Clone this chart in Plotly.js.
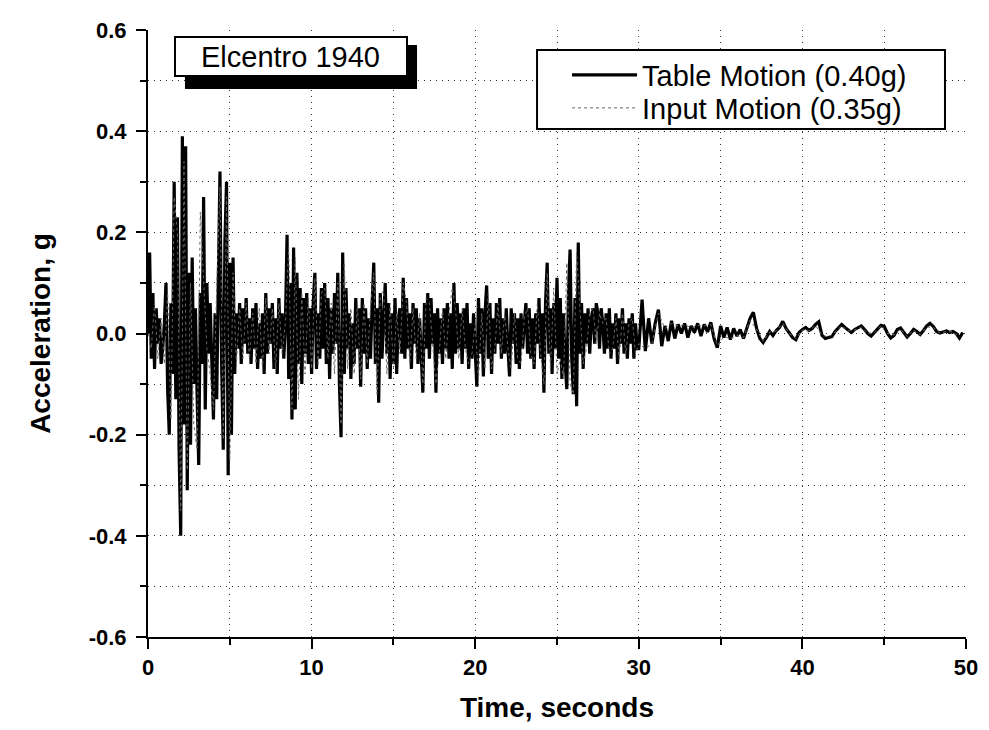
<!DOCTYPE html>
<html>
<head>
<meta charset="utf-8">
<script src="https://cdn.plot.ly/plotly-3.0.1.min.js"></script>
<style>html,body{margin:0;padding:0;background:#fff;}#chart{width:989px;height:730px;}</style>
</head>
<body>
<div id="chart"></div>
<script>
// ---------- DATA ----------
const SERIES_NAMES = ["Table Motion (0.40g)", "Input Motion (0.35g)"];
const ANNOTATION_TEXT = "Elcentro 1940";

// Table motion, acceleration (g), 0.0 s – 29.9 s sampled every 0.1 s
const TABLE_DT_A = 0.1;
const TABLE_ACC_A = [
  0.00, 0.16, -0.05, 0.08, -0.07, 0.05, -0.02, 0.03, -0.06, -0.03,
  0.02, 0.10, -0.11, -0.20, 0.06, -0.08, 0.30, -0.13, 0.23, -0.23,
  -0.40, 0.39, -0.18, 0.37, -0.31, 0.12, -0.22, 0.15, -0.10, 0.05,
  -0.12, -0.26, 0.08, -0.06, 0.27, -0.15, 0.10, -0.04, 0.06, -0.09,
  -0.17, 0.04, -0.13, 0.11, 0.32, -0.06, -0.23, 0.18, 0.30, -0.28,
  0.14, -0.20, 0.15, -0.08, 0.04, -0.03, 0.06, -0.06, 0.05, -0.02,
  0.07, -0.04, 0.03, -0.06, 0.05, -0.03, 0.06, -0.07, 0.02, -0.05,
  0.04, -0.08, 0.08, -0.04, 0.05, -0.02, 0.06, -0.07, 0.03, -0.08,
  0.07, -0.03, 0.04, -0.05, 0.02, 0.195, -0.09, 0.10, -0.17, 0.17,
  -0.15, 0.12, -0.06, 0.09, -0.10, 0.07, -0.04, 0.08, -0.06, 0.05,
  -0.08, 0.06, 0.12, -0.07, 0.04, -0.05, 0.09, -0.03, 0.10, -0.06,
  0.07, -0.09, 0.05, -0.04, 0.08, -0.02, 0.12, -0.10, -0.205, 0.16,
  -0.08, 0.09, -0.03, 0.04, -0.09, 0.02, -0.06, 0.07, -0.03, 0.05,
  -0.105, 0.07, -0.04, 0.05, -0.07, 0.03, -0.05, 0.06, 0.14, -0.06,
  0.05, -0.137, 0.08, -0.05, 0.03, 0.10, -0.04, 0.06, -0.09, 0.04,
  -0.06, 0.07, -0.08, 0.03, 0.05, -0.04, 0.11, -0.05, 0.07, -0.03,
  0.04, -0.07, 0.06, -0.02, 0.05, -0.06, 0.03, -0.04, -0.117, 0.06,
  -0.03, 0.08, -0.05, 0.07, -0.02, 0.04, -0.117, 0.05, -0.04, 0.03,
  -0.06, 0.05, -0.03, 0.06, -0.05, 0.04, -0.07, 0.10, -0.04, 0.06,
  -0.03, 0.04, -0.06, 0.05, -0.03, 0.06, -0.07, 0.02, -0.05, 0.04,
  -0.03, -0.105, 0.07, -0.04, 0.05, -0.085, 0.04, 0.095, -0.05, 0.06,
  -0.08, 0.03, -0.04, 0.06, -0.02, 0.07, -0.05, 0.03, -0.04, 0.05,
  -0.03, -0.085, 0.05, -0.02, 0.04, -0.06, 0.03, -0.07, 0.04, -0.03,
  0.02, 0.06, -0.04, 0.05, -0.05, 0.03, -0.07, 0.04, -0.02, 0.07,
  -0.05, 0.04, -0.117, 0.06, 0.14, -0.04, 0.05, -0.08, 0.06, -0.03,
  0.11, -0.05, 0.07, -0.09, 0.04, -0.06, -0.11, 0.08, 0.166, -0.05,
  -0.12, 0.07, -0.144, 0.18, -0.04, 0.06, -0.07, 0.04, -0.02, 0.05,
  -0.04, 0.03, 0.05, -0.02, 0.06, 0.04, -0.03, 0.05, 0.02, -0.04,
  0.04, -0.03, 0.05, -0.05, 0.02, -0.03, 0.04, -0.06, 0.03, -0.02,
  0.05, -0.04, 0.02, -0.05, 0.03, -0.02, 0.04, -0.05, 0.02, -0.03
];
// Table motion, 30.0 s – 49.8 s sampled every 0.2 s
const TABLE_T0_B = 30.0;
const TABLE_DT_B = 0.2;
const TABLE_ACC_B = [
  -0.03, 0.067, -0.035, 0.03, -0.02, 0.02, 0.047, -0.025, 0.015, -0.015,
  0.025, -0.01, 0.018, 0.0, 0.02, -0.008, 0.015, 0.002, 0.02, -0.005,
  0.018, 0.003, 0.022, -0.01, -0.028, 0.015, -0.008, 0.012, -0.012, 0.01,
  -0.005, 0.008, -0.01, 0.012, 0.03, 0.042, 0.01, -0.01, -0.018, -0.008,
  0.004, -0.004, 0.006, 0.012, 0.024, 0.01, 0.0, -0.008, -0.012, 0.002,
  0.008, 0.012, 0.006, 0.01, 0.018, 0.023, -0.004, -0.01, -0.008, -0.006,
  0.004, 0.012, 0.018, 0.012, 0.006, 0.002, 0.008, 0.012, 0.015, 0.008,
  0.0, -0.005, 0.002, 0.01, 0.016, 0.014, 0.0, -0.009, -0.004, 0.008,
  0.011, 0.002, -0.007, 0.0, 0.008, 0.004, -0.002, 0.006, 0.015, 0.02,
  0.014, 0.004, 0.001, 0.003, 0.005, 0.002, 0.004, 0.0, -0.009, 0.002
];

// Input motion, 0.0 s – 29.8 s sampled every 0.2 s
const INPUT_DT_A = 0.2;
const INPUT_ACC_A = [
  0.00, -0.03, 0.06, -0.05, 0.03, -0.06, 0.08, -0.17, 0.27, 0.20,
  -0.35, 0.34, -0.27, 0.10, -0.18, -0.23, 0.24, 0.09, -0.03, -0.08,
  -0.15, 0.09, 0.29, -0.21, 0.27, -0.25, 0.12, -0.06, 0.05, -0.05,
  0.06, -0.05, 0.04, -0.06, 0.05, -0.07, 0.07, -0.04, 0.05, -0.07,
  0.06, -0.04, 0.02, 0.17, -0.15, 0.15, -0.13, 0.08, -0.08, 0.07,
  -0.07, 0.11, -0.06, 0.08, 0.09, -0.05, 0.06, -0.08, 0.10, -0.18,
  0.14, -0.07, 0.05, -0.08, 0.06, -0.09, 0.06, -0.06, 0.05, 0.12,
  -0.12, 0.07, 0.09, -0.08, 0.06, -0.07, 0.04, -0.04, 0.10, 0.06,
  -0.06, 0.05, -0.05, 0.04, -0.10, 0.07, 0.06, -0.02, -0.10, -0.04,
  0.05, -0.05, 0.04, 0.09, 0.05, -0.05, 0.05, -0.03, -0.06, -0.04,
  0.02, -0.09, 0.04, -0.07, 0.08, -0.07, -0.03, 0.06, -0.04, 0.04,
  -0.03, -0.07, 0.04, -0.05, -0.06, 0.03, 0.05, -0.04, -0.06, 0.06,
  -0.04, -0.10, 0.12, -0.07, 0.09, -0.08, -0.05, -0.09, 0.14, -0.10,
  -0.12, 0.16, 0.05, -0.06, -0.03, 0.04, 0.05, -0.02, 0.04, 0.02,
  0.03, -0.04, -0.03, 0.03, -0.05, 0.04, -0.04, 0.02, 0.03, -0.04
];
// Input motion, 30.0 s – 49.6 s sampled every 0.4 s
const INPUT_T0_B = 30.0;
const INPUT_DT_B = 0.4;
const INPUT_ACC_B = [
  -0.02, -0.03, -0.02, 0.04, 0.01, 0.02, 0.015, 0.017, 0.012, 0.016,
  0.015, 0.018, -0.024, -0.006, -0.01, -0.004, -0.008, 0.026, 0.008, -0.015,
  0.003, 0.005, 0.02, 0.0, -0.01, 0.007, 0.005, 0.016, -0.003, -0.007,
  0.003, 0.015, 0.005, 0.007, 0.013, 0.0, 0.002, 0.014, 0.0, -0.003,
  0.009, -0.006, 0.007, -0.002, 0.013, 0.012, 0.001, 0.004, 0.003, -0.007
];

const X_RANGE = [0, 50];
const Y_RANGE = [-0.6, 0.6];
const X_TICKS = [0, 10, 20, 30, 40, 50];
const X_TICK_LABELS = ["0", "10", "20", "30", "40", "50"];
const Y_TICKS = [-0.6, -0.4, -0.2, 0.0, 0.2, 0.4, 0.6];
const Y_TICK_LABELS = ["-0.6", "-0.4", "-0.2", "0.0", "0.2", "0.4", "0.6"];
const X_TITLE = "Time, seconds";
const Y_TITLE = "Acceleration, g";

// ---------- BUILD ----------
function timeAxis(t0, dt, arr) { return arr.map((_, i) => +(t0 + i * dt).toFixed(3)); }
const tableT = timeAxis(0, TABLE_DT_A, TABLE_ACC_A).concat(timeAxis(TABLE_T0_B, TABLE_DT_B, TABLE_ACC_B));
const tableY = TABLE_ACC_A.concat(TABLE_ACC_B);
const inputT = timeAxis(0, INPUT_DT_A, INPUT_ACC_A).concat(timeAxis(INPUT_T0_B, INPUT_DT_B, INPUT_ACC_B));
const inputY = INPUT_ACC_A.concat(INPUT_ACC_B);

const FONT = "Liberation Sans, Arial, sans-serif";

const traces = [
  {
    x: tableT, y: tableY, type: "scatter", mode: "lines", name: SERIES_NAMES[0],
    line: { color: "#000000", width: 3.2 }, legend: "legend"
  },
  {
    x: inputT, y: inputY, type: "scatter", mode: "lines", name: SERIES_NAMES[1],
    line: { color: "#666666", width: 1, dash: "dot" }, legend: "legend2"
  }
];

const gridStyle = { showgrid: true, gridcolor: "#333333", gridwidth: 1, griddash: "1px,5px" };
const legendBase = {
  x: 0.5123, xanchor: "left", yanchor: "middle",
  bgcolor: "rgba(0,0,0,0)", borderwidth: 0,
  font: { family: FONT, size: 29, color: "#000000" },
  itemwidth: 65
};

const layout = {
  width: 989, height: 730,
  margin: { l: 148, r: 23, t: 30, b: 93, pad: 0 },
  paper_bgcolor: "#ffffff", plot_bgcolor: "#ffffff",
  font: { family: FONT, color: "#000000" },
  showlegend: true,
  legend: Object.assign({ y: 0.9259 }, legendBase),
  legend2: Object.assign({ y: 0.8715 }, legendBase),
  xaxis: Object.assign({
    range: X_RANGE, tickmode: "array", tickvals: X_TICKS, ticktext: X_TICK_LABELS,
    ticks: "outside", ticklen: 10, tickwidth: 2, tickcolor: "#000",
    showline: true, linewidth: 2, linecolor: "#000", zeroline: false,
    tickfont: { family: FONT, size: 22, color: "#000", weight: "bold" },
    ticklabelstandoff: 0,
    minor: Object.assign({ tickmode: "linear", tick0: 0, dtick: 5, ticks: "outside", ticklen: 6, tickwidth: 2, tickcolor: "#000" }, gridStyle),
    title: { text: X_TITLE, font: { family: FONT, size: 28, color: "#000", weight: "bold" }, standoff: 18 },
    automargin: false
  }, gridStyle),
  yaxis: Object.assign({
    range: Y_RANGE, tickmode: "array", tickvals: Y_TICKS, ticktext: Y_TICK_LABELS,
    ticks: "outside", ticklen: 10, tickwidth: 2, tickcolor: "#000",
    showline: true, linewidth: 2, linecolor: "#000", zeroline: false,
    tickfont: { family: FONT, size: 22, color: "#000", weight: "bold" },
    ticklabelstandoff: 5,
    minor: Object.assign({ tickmode: "linear", tick0: 0, dtick: 0.1, ticks: "outside", ticklen: 6, tickwidth: 2, tickcolor: "#000" }, gridStyle),
    title: { text: Y_TITLE, font: { family: FONT, size: 28, color: "#000", weight: "bold" }, standoff: 30 },
    automargin: false
  }, gridStyle),
  shapes: [
    // shadow behind the title box
    { type: "rect", xref: "paper", yref: "paper", x0: 0.0452, x1: 0.3289, y0: 0.9028, y1: 0.9753,
      fillcolor: "#000", line: { width: 0 } },
    // title box
    { type: "rect", xref: "paper", yref: "paper", x0: 0.0330, x1: 0.3166, y0: 0.9242, y1: 0.9885,
      fillcolor: "#fff", line: { color: "#000", width: 2 } },
    // legend frame
    { type: "rect", xref: "paper", yref: "paper", x0: 0.4756, x1: 0.9743, y0: 0.8369, y1: 0.9671,
      fillcolor: "#fff", line: { color: "#000", width: 2 } }
  ],
  annotations: [
    { text: ANNOTATION_TEXT, xref: "paper", yref: "paper", x: 0.1748, y: 0.9563,
      xanchor: "center", yanchor: "middle", showarrow: false,
      font: { family: FONT, size: 29, color: "#000" } }
  ]
};

Plotly.newPlot("chart", traces, layout, { displayModeBar: false, staticPlot: true });
</script>
</body>
</html>
